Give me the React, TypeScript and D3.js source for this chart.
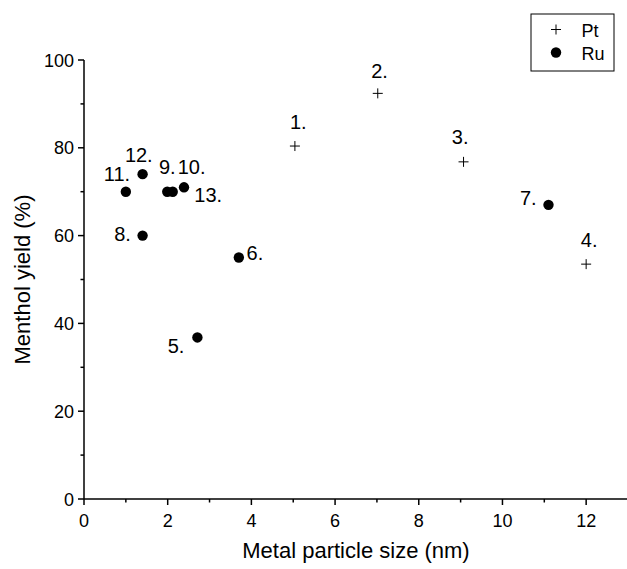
import React from "react";
import * as d3 from "d3";

const ptLabels = ["1.", "2.", "3.", "4."];
const ptSize = [5.04, 7.02, 9.07, 12.0];
const ptYield = [80.4, 92.4, 76.8, 53.5];

const ruLabels = ["5.", "6.", "7.", "8.", "9.", "10.", "11.", "12.", "13."];
const ruSize = [2.71, 3.7, 11.1, 1.4, 1.99, 2.39, 1.0, 1.4, 2.12];
const ruYield = [36.8, 55.0, 67.0, 60.0, 70.0, 71.0, 70.0, 74.0, 70.0];

// label offsets (px) relative to each marker: [dx, dy]
const ptLabelOffsets = [[-5, -17], [-6.5, -15], [-11.7, -17.7], [-5.3, -17.3]];
const ruLabelOffsets = [
  [-29.7, 16], [7.7, 2.3], [-28.5, 0], [-28.4, 5], [-8.3, -17.7],
  [-6.3, -13.3], [-22, -11], [-17.7, -12.3], [21.6, 10.6],
];

const xTicks = [0, 2, 4, 6, 8, 10, 12];
const xMinor = [1, 3, 5, 7, 9, 11];
const yTicks = [0, 20, 40, 60, 80, 100];
const yMinor = [10, 30, 50, 70, 90];

const W = 627;
const H = 569;
const FONT = "'Liberation Sans', Arial, sans-serif";

export default function App() {
  const x = d3.scaleLinear().domain([0, 13]).range([84, 628]);
  const y = d3.scaleLinear().domain([0, 100]).range([499, 60]);
  const x0 = x(0);
  const y0 = y(0);
  const cross = (cx: number, cy: number, k: string) => (
    <path key={k} d={`M${cx - 5},${cy}H${cx + 5}M${cx},${cy - 5}V${cy + 5}`} stroke="#000" strokeWidth={1} fill="none" />
  );
  return (
    <svg width={W} height={H} style={{ position: "absolute", left: 0, top: 0, background: "#fff" }} fontFamily={FONT}>
      <rect x={0} y={0} width={W} height={H} fill="#fff" />
      {/* axes */}
      <line x1={x0} x2={x(13)} y1={y0} y2={y0} stroke="#000" strokeWidth={1.5} />
      <line x1={x0} x2={x0} y1={y0} y2={y(100)} stroke="#000" strokeWidth={1.5} />
      {xTicks.map((t) => (
        <g key={"xt" + t}>
          <line x1={x(t)} x2={x(t)} y1={y0} y2={y0 + 6} stroke="#000" strokeWidth={1.5} />
          <text x={x(t)} y={y0 + 28} fontSize={18} textAnchor="middle" fill="#000">{t}</text>
        </g>
      ))}
      {xMinor.map((t) => (
        <line key={"xm" + t} x1={x(t)} x2={x(t)} y1={y0} y2={y0 + 3.5} stroke="#000" strokeWidth={1.5} />
      ))}
      {yTicks.map((t) => (
        <g key={"yt" + t}>
          <line x1={x0 - 6} x2={x0} y1={y(t)} y2={y(t)} stroke="#000" strokeWidth={1.5} />
          <text x={x0 - 10} y={y(t) + 6.5} fontSize={18} textAnchor="end" fill="#000">{t}</text>
        </g>
      ))}
      {yMinor.map((t) => (
        <line key={"ym" + t} x1={x0 - 3.5} x2={x0} y1={y(t)} y2={y(t)} stroke="#000" strokeWidth={1.5} />
      ))}
      <text x={(x(0) + x(13)) / 2} y={558} fontSize={22} textAnchor="middle" fill="#000">Metal particle size (nm)</text>
      <text transform={`translate(30,${(y(0) + y(100)) / 2}) rotate(-90)`} fontSize={22} textAnchor="middle" fill="#000">Menthol yield (%)</text>
      {/* Pt points */}
      {ptSize.map((s, i) => cross(x(s), y(ptYield[i]), "pt" + i))}
      {ptSize.map((s, i) => (
        <text key={"ptl" + i} x={x(s) + ptLabelOffsets[i][0]} y={y(ptYield[i]) + ptLabelOffsets[i][1]} fontSize={20} fill="#000">{ptLabels[i]}</text>
      ))}
      {/* Ru points */}
      {ruSize.map((s, i) => (
        <circle key={"ru" + i} cx={x(s)} cy={y(ruYield[i])} r={5.2} fill="#000" />
      ))}
      {ruSize.map((s, i) => (
        <text key={"rul" + i} x={x(s) + ruLabelOffsets[i][0]} y={y(ruYield[i]) + ruLabelOffsets[i][1]} fontSize={20} fill="#000">{ruLabels[i]}</text>
      ))}
      {/* legend */}
      <rect x={531} y={14} width={83} height={57} fill="#fff" stroke="#000" strokeWidth={1} />
      {cross(556, 29.5, "lg1")}
      <text x={581.5} y={36.5} fontSize={18} fill="#000">Pt</text>
      <circle cx={556} cy={52.5} r={5.2} fill="#000" />
      <text x={581.5} y={59.5} fontSize={18} fill="#000">Ru</text>
    </svg>
  );
}
